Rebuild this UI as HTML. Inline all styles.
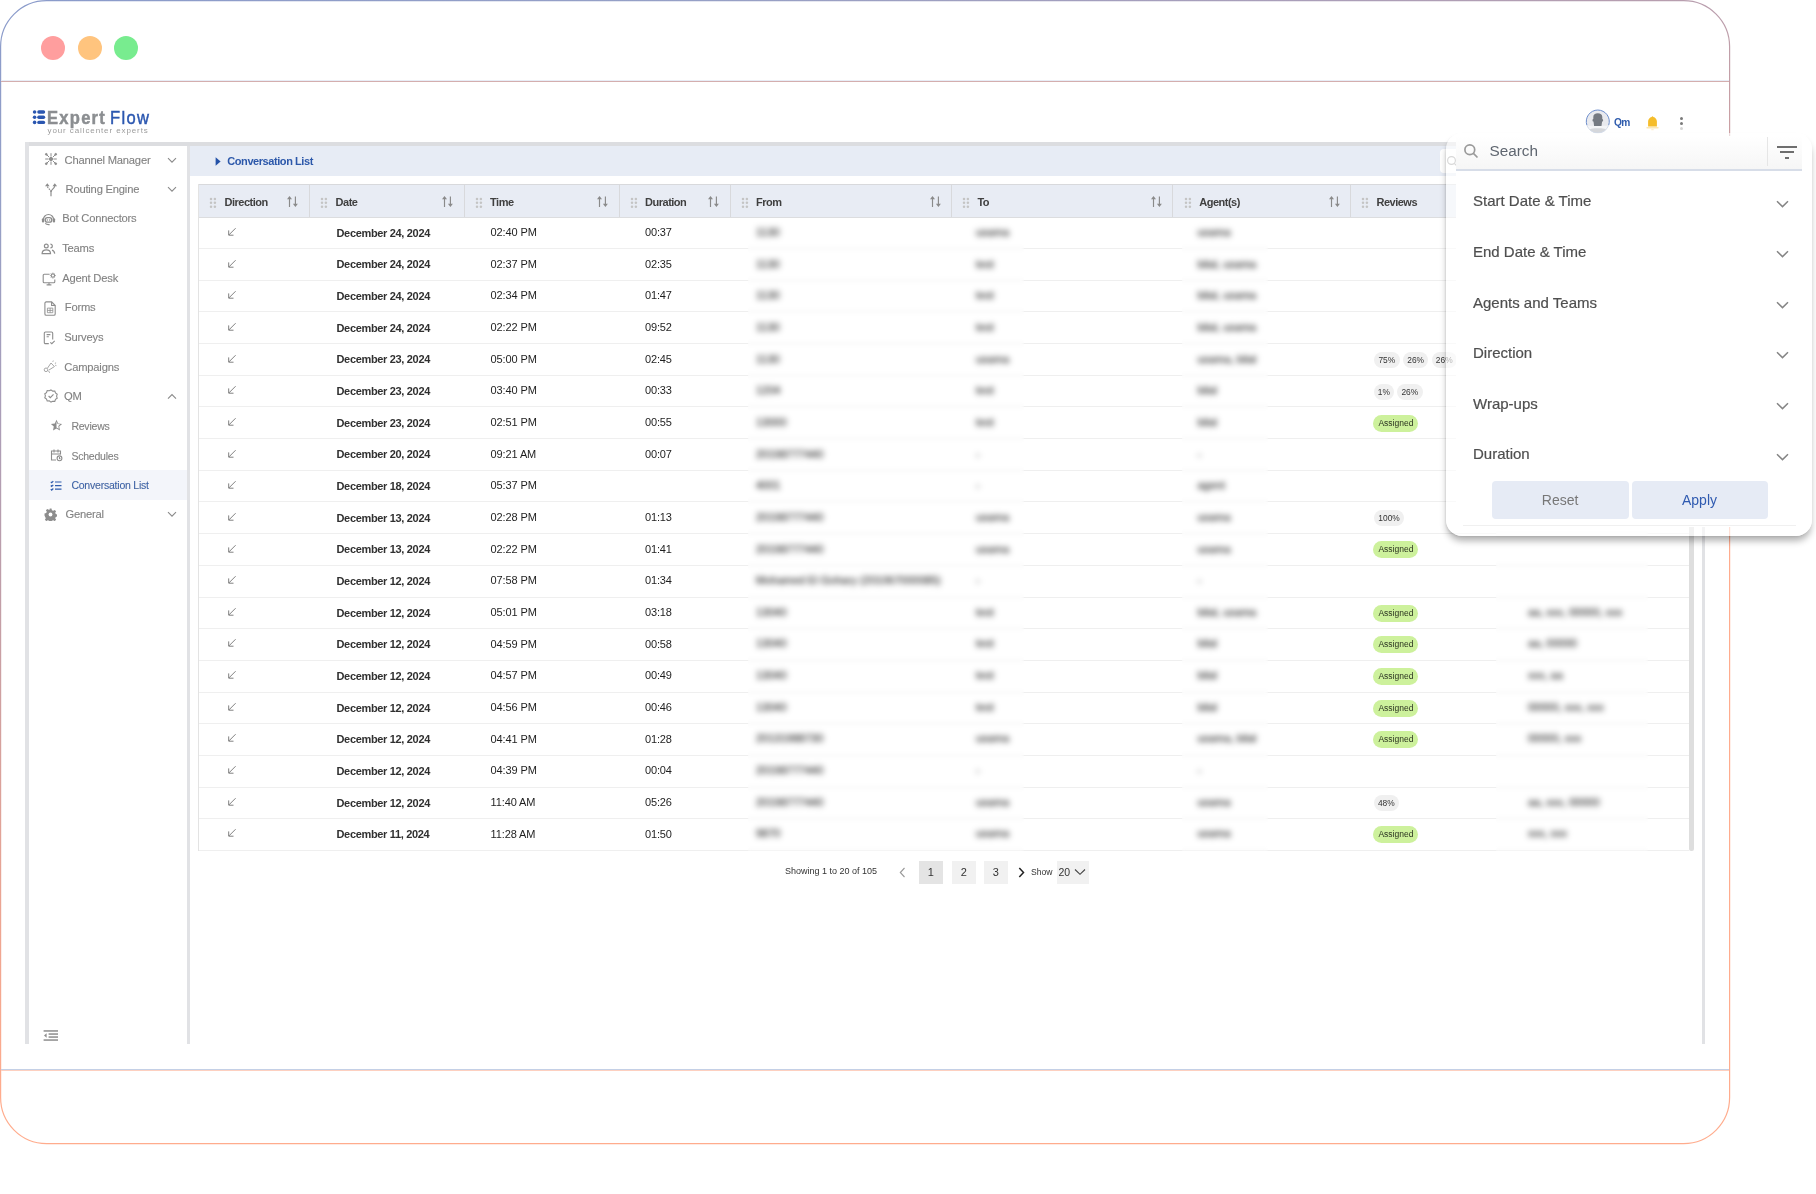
<!DOCTYPE html><html><head><meta charset="utf-8"><style>
*{box-sizing:border-box;margin:0;padding:0}
html,body{width:1816px;height:1194px;overflow:hidden;background:#fff;font-family:"Liberation Sans",sans-serif;position:relative;-webkit-font-smoothing:antialiased}
.a{position:absolute}
.t{position:absolute;white-space:nowrap;line-height:1}
.dot{position:absolute;width:24px;height:24px;border-radius:50%}
.mi{position:absolute;white-space:nowrap;line-height:1;color:#828282;font-size:11.2px;letter-spacing:-0.2px;-webkit-text-stroke:0.12px #828282}
.si{position:absolute;white-space:nowrap;line-height:1;color:#828282;font-size:10.5px;letter-spacing:-0.22px;-webkit-text-stroke:0.12px #828282}
.hd{position:absolute;font-size:11px;font-weight:700;color:#404040;letter-spacing:-0.5px;line-height:1;white-space:nowrap}
.c{position:absolute;font-size:11px;line-height:1;white-space:nowrap;color:#1e1e1e}
.b{font-weight:700;letter-spacing:-0.33px;color:#303030}
.bl{position:absolute;font-size:11px;line-height:1;white-space:nowrap;color:#1a1a1a;filter:blur(2.3px);-webkit-text-stroke:0.15px #1a1a1a;margin-top:-0.8px}
.badge{position:absolute;height:16px;border-radius:8px;background:#f0f0f0;font-size:8.4px;color:#333;line-height:16px;text-align:center}
.asg{position:absolute;height:17px;border-radius:9px;background:#cdf19c;font-size:8.5px;color:#2b3320;line-height:17px;text-align:center;width:45px}
.fi{position:absolute;left:1473px;font-size:15px;color:#4f4f4f;line-height:1;white-space:nowrap;-webkit-text-stroke:0.2px #4f4f4f}
.pg{position:absolute;top:861px;height:23px;width:23.5px;font-size:11px;line-height:23px;text-align:center;color:#333}
</style></head><body><div id="root" style="position:absolute;left:0;top:0;width:1816px;height:1194px;will-change:transform">
<svg class="a" style="left:0;top:0" width="1816" height="1194">
 <defs>
  <linearGradient id="fg" gradientUnits="userSpaceOnUse" x1="0" y1="0" x2="310" y2="1000">
   <stop offset="0" stop-color="#8a9bcb"/>
   <stop offset="0.2" stop-color="#96a0c6"/>
   <stop offset="0.37" stop-color="#aa9eb9"/>
   <stop offset="0.53" stop-color="#bf9ea9"/>
   <stop offset="0.68" stop-color="#d6a19d"/>
   <stop offset="0.84" stop-color="#eda592"/>
   <stop offset="1" stop-color="#ffac8d"/>
  </linearGradient>
 </defs>
 <rect x="0.6" y="0.6" width="1729" height="1143" rx="46" ry="46" fill="none" stroke="url(#fg)" stroke-width="1.2"/>
 <rect x="1" y="80" width="1728" height="1" fill="#e8edf6"/>
 <rect x="1" y="81" width="1728" height="1" fill="#d4aeae"/>
 <rect x="1" y="1069" width="1728" height="1" fill="#c4d0e6"/>
 <rect x="1" y="1070" width="1728" height="1" fill="#fdd0c0"/>
</svg>
<div class="dot" style="left:41px;top:35.5px;background:#ff9e9e"></div>
<div class="dot" style="left:77.6px;top:35.5px;background:#ffc47e"></div>
<div class="dot" style="left:114px;top:35.5px;background:#78ec8f"></div>

<svg class="a" style="left:32px;top:109px" width="14" height="16" viewBox="0 0 14 16">
 <g fill="#2a56b0">
  <circle cx="2.6" cy="3" r="1.8"/><rect x="5.2" y="1.3" width="8" height="3.4" rx="1.7"/>
  <circle cx="2.6" cy="8.3" r="1.8"/><rect x="5.2" y="6.6" width="8" height="3.4" rx="1.7"/>
  <circle cx="2.6" cy="13.4" r="1.8"/><rect x="5.2" y="11.7" width="8" height="3.4" rx="1.7"/>
 </g></svg>
<div class="t" style="left:47.2px;top:109px;font-size:18.4px;font-weight:700;color:#8b8e91;letter-spacing:1.4px;-webkit-text-stroke:0.5px #8b8e91;transform:scaleX(0.9);transform-origin:0 0">Expert</div>
<div class="t" style="left:109.6px;top:109px;font-size:18.4px;color:#2b57b0;letter-spacing:1.45px;-webkit-text-stroke:0.45px #2b57b0;transform:scaleX(0.9);transform-origin:0 0">Flow</div>
<div class="t" style="left:47.5px;top:127.2px;font-size:8px;color:#9c9c9c;letter-spacing:0.9px">your callcenter experts</div>

<svg class="a" style="left:1585px;top:109px" width="26" height="26" viewBox="0 0 26 26">
 <defs><clipPath id="av"><circle cx="12.8" cy="12.7" r="11.4"/></clipPath></defs>
 <circle cx="12.8" cy="12.7" r="11.4" fill="#e9eaee"/>
 <g clip-path="url(#av)">
  <rect x="0" y="16.8" width="26" height="10" fill="#f4f5f7"/>
  <path d="M0 27L3.2 21.6C4.8 20 7.4 19.2 9.6 19.2H16C18.2 19.2 20.8 20 22.4 21.6L25.6 27z" fill="#d5d7db"/>
  <path d="M8.3 8C8.3 5.4 10.1 4.2 12.8 4.2C15.5 4.2 17.3 5.4 17.3 8V10.1C17.9 10.2 18.2 10.7 18.1 11.4C18 12.2 17.6 12.6 17.1 12.6L16.5 16.9H9.1L8.5 12.6C8 12.6 7.6 12.2 7.5 11.4C7.4 10.7 7.7 10.2 8.3 10.1Z" fill="#757a82"/>
 </g>
 <path d="M1.9 16.2A11.5 11.5 0 1 1 23.7 16.2" fill="none" stroke="#5b80c6" stroke-width="0.9"/>
 <path d="M1.9 16.2A11.5 11.5 0 0 0 23.7 16.2" fill="none" stroke="#d3dbea" stroke-width="0.9"/>
</svg>
<div class="t" style="left:1614px;top:117.7px;font-size:10.2px;font-weight:700;color:#2f5cad;letter-spacing:-0.6px">Qm</div>
<svg class="a" style="left:1645px;top:115px" width="15" height="17" viewBox="0 0 15 17">
 <path d="M7.5 1.2c0.4 0 0.7 0.3 0.8 0.7c2.2 0.5 3.6 2.3 3.6 4.6v4.9h-8.8v-4.9c0-2.3 1.4-4.1 3.6-4.6c0.1-0.4 0.4-0.7 0.8-0.7z" fill="#f5bd2b"/>
 <rect x="1.3" y="12" width="12.4" height="1.5" rx="0.7" fill="#fbe7b3"/>
 <rect x="6.3" y="14.3" width="2.4" height="0.9" fill="#fce9bc"/>
</svg>
<div class="a" style="left:1680.2px;top:117.2px;width:3px;height:3px;border-radius:50%;background:#7a7a7a"></div>
<div class="a" style="left:1680.2px;top:122px;width:3px;height:3px;border-radius:50%;background:#7a7a7a"></div>
<div class="a" style="left:1680.2px;top:126.9px;width:3px;height:3px;border-radius:50%;background:#d6d6d6"></div>

<div class="a" style="left:25px;top:142px;width:1680px;height:4px;background:#dcdde0"></div>
<div class="a" style="left:25px;top:142px;width:4px;height:902px;background:#e1e2e5"></div>
<div class="a" style="left:187px;top:146px;width:3px;height:898px;background:#e1e2e5"></div>
<div class="a" style="left:1702px;top:146px;width:3px;height:898px;background:#e1e2e5"></div>
<div class="a" style="left:190px;top:146px;width:1512px;height:30px;background:#e7ecf5"></div>
<div class="a" style="left:1439.5px;top:149px;width:200px;height:24px;background:#fff;border-radius:4px"></div>
<svg class="a" style="left:1446px;top:155px" width="12" height="12" viewBox="0 0 12 12" fill="none" stroke="#999" stroke-width="1.2"><circle cx="5.5" cy="5.5" r="3.9"/><path d="M8.3 8.3L11 11"/></svg>
<svg class="a" style="left:215px;top:157px" width="6" height="9" viewBox="0 0 6 9"><path d="M0.6 0.3L5.6 4.5L0.6 8.7z" fill="#2452a8"/></svg>
<div class="t" style="left:227.3px;top:155.6px;font-size:11px;font-weight:700;color:#2c58aa;letter-spacing:-0.43px">Conversation List</div>

<div class="a" style="left:29px;top:470.4px;width:158px;height:30px;background:#f3f5fa"></div>
<div class="mi" style="left:64.5px;top:154.62px;">Channel Manager</div>
<div class="mi" style="left:65.5px;top:184.02px;">Routing Engine</div>
<div class="mi" style="left:62.2px;top:213.42px;">Bot Connectors</div>
<div class="mi" style="left:62.2px;top:242.82px;">Teams</div>
<div class="mi" style="left:62.2px;top:272.52px;">Agent Desk</div>
<div class="mi" style="left:64.8px;top:301.62px;">Forms</div>
<div class="mi" style="left:64.3px;top:332.02px;">Surveys</div>
<div class="mi" style="left:64.3px;top:361.52px;">Campaigns</div>
<div class="mi" style="left:64.0px;top:390.52px;">QM</div>
<div class="si" style="left:71.4px;top:421.11px;">Reviews</div>
<div class="si" style="left:71.4px;top:451.01px;">Schedules</div>
<div class="si" style="left:71.4px;top:480.41px;color:#2f5cad;">Conversation List</div>
<div class="mi" style="left:65.4px;top:509.32px;">General</div>
<svg class="a" style="left:166.5px;top:156.5px" width="10" height="7" viewBox="0 0 10 7"><path d="M1 1.2L5 5.2L9 1.2" fill="none" stroke="#8a8a8a" stroke-width="1.1"/></svg>
<svg class="a" style="left:166.5px;top:185.9px" width="10" height="7" viewBox="0 0 10 7"><path d="M1 1.2L5 5.2L9 1.2" fill="none" stroke="#8a8a8a" stroke-width="1.1"/></svg>
<svg class="a" style="left:166.5px;top:392.5px" width="10" height="7" viewBox="0 0 10 7"><path d="M1 5.6L5 1.6L9 5.6" fill="none" stroke="#8a8a8a" stroke-width="1.1"/></svg>
<svg class="a" style="left:166.5px;top:511.3px" width="10" height="7" viewBox="0 0 10 7"><path d="M1 1.2L5 5.2L9 1.2" fill="none" stroke="#8a8a8a" stroke-width="1.1"/></svg>

<svg class="a" style="left:44px;top:152px" width="14" height="14" viewBox="0 0 14 14" fill="none" stroke="#8d8d8d" stroke-width="1">
 <circle cx="7" cy="7" r="1.6" fill="#8d8d8d"/>
 <path d="M7 1.2v3.4M7 9.4v3.4M1.2 7h3.4M9.4 7h3.4M2.6 2.6l2.6 2.6M8.8 8.8l2.6 2.6M11.4 2.6L8.8 5.2M5.2 8.8l-2.6 2.6"/>
 <circle cx="2.3" cy="2.3" r="0.9" fill="#8d8d8d"/><circle cx="11.7" cy="2.3" r="0.9" fill="#8d8d8d"/><circle cx="2.3" cy="11.7" r="0.9" fill="#8d8d8d"/><circle cx="11.7" cy="11.7" r="0.9" fill="#8d8d8d"/>
</svg>
<svg class="a" style="left:44px;top:182px" width="14" height="15" viewBox="0 0 14 15" fill="none" stroke="#8d8d8d" stroke-width="1.2">
 <path d="M7 14.3V9.6"/><path d="M7 9.9C7 7.6 3.8 6.8 3.3 4" stroke-dasharray="1.6 0.9"/><path d="M7 9.9C7 7.6 10.3 6.8 10.8 4"/>
 <path d="M1 4.3L3.3 1.3L5.6 4.3z M8.5 4.3L10.8 1.3L13.1 4.3z" fill="#8d8d8d" stroke="none"/>
</svg>
<svg class="a" style="left:41px;top:213px" width="15" height="13" viewBox="0 0 15 13" fill="none" stroke="#8d8d8d" stroke-width="1.1">
 <path d="M2.4 6.6A5.1 5.1 0 0 1 12.6 6.6"/>
 <rect x="0.9" y="5.2" width="2.3" height="4.4" rx="1.1" fill="#8d8d8d" stroke="none"/><rect x="11.8" y="5.2" width="2.3" height="4.4" rx="1.1" fill="#8d8d8d" stroke="none"/>
 <rect x="4.2" y="4.7" width="6.6" height="4.4" rx="2.2" stroke-width="1.3"/>
 <circle cx="6.3" cy="6.9" r="0.75" fill="#8d8d8d" stroke="none"/><circle cx="8.7" cy="6.9" r="0.75" fill="#8d8d8d" stroke="none"/>
 <path d="M4.3 10.4Q5.6 11.9 8.6 11.6"/>
</svg>
<svg class="a" style="left:41px;top:243px" width="15" height="12" viewBox="0 0 15 12" fill="none" stroke="#8d8d8d" stroke-width="1.2">
 <circle cx="5.3" cy="3" r="1.9"/><path d="M9.4 1.1a1.9 1.9 0 1 1 0 3.8"/>
 <path d="M1.1 10.6c0-2.4 1.9-3.7 4.2-3.7s4.2 1.3 4.2 3.7z"/><path d="M11 7.1c1.5 0.4 2.5 1.6 2.7 3.5"/>
</svg>
<svg class="a" style="left:42px;top:272px" width="15" height="14" viewBox="0 0 15 14" fill="none" stroke="#8d8d8d" stroke-width="1.1">
 <path d="M7.6 2.3H2.2a1 1 0 0 0-1 1v6.4a1 1 0 0 0 1 1h9.6a1 1 0 0 0 1-1V7.6"/><path d="M7 10.8v1.8M4.6 12.9h4.8"/>
 <circle cx="10.9" cy="3.6" r="1.7"/><path d="M10.9 0.6v1M10.9 5.6v1M7.9 3.6h1M12.9 3.6h1M8.8 1.5l0.6 0.6M12.4 5.1l0.6 0.6M13 1.5l-0.6 0.6M9.4 5.1l-0.6 0.6" stroke-width="0.8"/>
</svg>
<svg class="a" style="left:44px;top:301px" width="12" height="15" viewBox="0 0 12 15" fill="none" stroke="#8d8d8d" stroke-width="1.1">
 <path d="M2.2 0.9h5.4l3.6 3.6v8.4a1.3 1.3 0 0 1-1.3 1.3H2.2a1.3 1.3 0 0 1-1.3-1.3V2.2a1.3 1.3 0 0 1 1.3-1.3z"/><path d="M7.6 0.9v3.6h3.6"/>
 <path d="M3.4 7.1h5.4v4.6H3.4z M3.4 9.4h5.4 M6.1 7.1v4.6" stroke-width="0.8"/>
</svg>
<svg class="a" style="left:43px;top:331px" width="13" height="15" viewBox="0 0 13 15" fill="none" stroke="#8d8d8d" stroke-width="1.1">
 <path d="M5.8 12.6H2.5a1.2 1.2 0 0 1-1.2-1.2V2.2A1.2 1.2 0 0 1 2.5 1h6a1.2 1.2 0 0 1 1.2 1.2v6.3"/><path d="M3.6 3.6h3.8M3.6 5.8h2.2"/><path d="M7.3 11.3l1.5 1.4l2.9-2.9"/>
</svg>
<svg class="a" style="left:43px;top:360px" width="14" height="14" viewBox="0 0 14 14" fill="none" stroke="#a5a5a5" stroke-width="1">
 <circle cx="3" cy="9.8" r="1.8"/><path d="M4.4 8.3L8 3L11.4 6.6L5.7 10.2"/><path d="M5.6 10.9L6.6 12.8"/>
 <path d="M9.8 1.8L10.3 0.6M11.9 3.3L13.1 2.9M12.2 5.2L13.4 5.6"/>
</svg>
<svg class="a" style="left:44px;top:389px" width="14" height="14" viewBox="0 0 14 14" fill="none" stroke="#8d8d8d" stroke-width="1.1">
 <path d="M7 0.9l1.7 1.2l2.1-0.1l0.7 2l1.7 1.2l-0.6 2l0.6 2l-1.7 1.2l-0.7 2l-2.1-0.1L7 13.1l-1.7-1.2l-2.1 0.1l-0.7-2L0.8 8.8l0.6-2l-0.6-2l1.7-1.2l0.7-2l2.1 0.1z"/>
 <path d="M4.6 7l1.7 1.7l3.2-3.3"/>
</svg>
<svg class="a" style="left:50px;top:419px" width="13" height="13" viewBox="0 0 13 13">
 <path d="M6.5 0.8l1.7 3.6l3.9 0.5l-2.9 2.7l0.8 3.9l-3.5-2l-3.5 2l0.8-3.9L0.9 4.9l3.9-0.5z" fill="#8d8d8d"/>
 <path d="M6.5 2.6l1.1 2.4l2.6 0.3l-1.9 1.8l0.5 2.6l-2.3-1.3z" fill="#fff"/>
</svg>
<svg class="a" style="left:50px;top:448px" width="13" height="14" viewBox="0 0 13 14" fill="none" stroke="#8d8d8d" stroke-width="1.1">
 <path d="M6 12H1.5V3h9v3.5"/><path d="M1.5 6h9M4 1.5v3M8 1.5v3"/>
 <circle cx="9.5" cy="10.3" r="2.4"/><path d="M9.5 9v1.4l0.9 0.6"/>
</svg>
<svg class="a" style="left:50px;top:480px" width="12" height="11" viewBox="0 0 12 11" fill="none" stroke="#2f5cad" stroke-width="1.2">
 <path d="M0.8 1.8l0.9 0.9l1.6-1.6M0.8 5.5l0.9 0.9l1.6-1.6M0.8 9.2l0.9 0.9l1.6-1.6"/>
 <path d="M5 2h6.5M5 5.6h6.5M5 9.2h6.5"/>
</svg>
<svg class="a" style="left:44px;top:508px" width="13" height="13" viewBox="0 0 13 13">
 <path d="M5.5 0.5h2l0.4 1.7l1.3 0.6l1.5-0.9l1.4 1.4l-0.9 1.5l0.6 1.3l1.7 0.4v2l-1.7 0.4l-0.6 1.3l0.9 1.5l-1.4 1.4l-1.5-0.9l-1.3 0.6l-0.4 1.7h-2l-0.4-1.7l-1.3-0.6l-1.5 0.9l-1.4-1.4l0.9-1.5l-0.6-1.3L0.5 7.5v-2l1.7-0.4l0.6-1.3l-0.9-1.5l1.4-1.4l1.5 0.9l1.3-0.6z" fill="#8d8d8d"/>
 <circle cx="6.5" cy="6.5" r="1.9" fill="#fff"/>
</svg>
<svg class="a" style="left:43px;top:1029px" width="16" height="13" viewBox="0 0 16 13">
 <g fill="#8e8e8e"><rect x="0.6" y="1.2" width="14.4" height="1.5"/><rect x="5.6" y="4.3" width="9.4" height="1.5"/><rect x="5.6" y="7.3" width="9.4" height="1.5"/><rect x="0.6" y="10.3" width="14.4" height="1.5"/>
 <path d="M1 6.5l2.6-2.2v4.4z"/></g>
</svg>

<div class="a" style="left:198px;top:184px;width:1491px;height:34px;background:#e8ecf4;border-top:1px solid #d8d9dc;border-bottom:1px solid #dcdddf"></div>
<div class="a" style="left:198px;top:184px;width:1px;height:667px;background:#e3e3e3"></div>
<div class="a" style="left:309.0px;top:185px;width:1px;height:32px;background:#d8d9dc"></div>
<div class="a" style="left:463.5px;top:185px;width:1px;height:32px;background:#d8d9dc"></div>
<div class="a" style="left:619.0px;top:185px;width:1px;height:32px;background:#d8d9dc"></div>
<div class="a" style="left:729.5px;top:185px;width:1px;height:32px;background:#d8d9dc"></div>
<div class="a" style="left:951.0px;top:185px;width:1px;height:32px;background:#d8d9dc"></div>
<div class="a" style="left:1172.0px;top:185px;width:1px;height:32px;background:#d8d9dc"></div>
<div class="a" style="left:1349.5px;top:185px;width:1px;height:32px;background:#d8d9dc"></div>
<div class="a" style="left:1499.5px;top:185px;width:1px;height:32px;background:#d8d9dc"></div>
<svg class="a" style="left:209.45px;top:196.8px" width="9" height="12" viewBox="0 0 9 12" fill="#c4c4c4"><circle cx="2" cy="2" r="1.25"/><circle cx="5.9" cy="2" r="1.25"/><circle cx="2" cy="5.85" r="1.25"/><circle cx="5.9" cy="5.85" r="1.25"/><circle cx="2" cy="9.7" r="1.25"/><circle cx="5.9" cy="9.7" r="1.25"/></svg>
<div class="hd" style="left:224.6px;top:197.4px">Direction</div>
<svg class="a" style="left:287.2px;top:196px" width="12" height="12" viewBox="0 0 12 12"><path d="M2.5 2.5V11M8.4 0.5V8.6" stroke="#8a8a8a" stroke-width="1.15"/><path d="M0 3.3L2.5 0L5 3.3zM5.9 7.8L8.4 11.1L10.9 7.8z" fill="#8a8a8a"/></svg>
<svg class="a" style="left:320.45px;top:196.8px" width="9" height="12" viewBox="0 0 9 12" fill="#c4c4c4"><circle cx="2" cy="2" r="1.25"/><circle cx="5.9" cy="2" r="1.25"/><circle cx="2" cy="5.85" r="1.25"/><circle cx="5.9" cy="5.85" r="1.25"/><circle cx="2" cy="9.7" r="1.25"/><circle cx="5.9" cy="9.7" r="1.25"/></svg>
<div class="hd" style="left:335.6px;top:197.4px">Date</div>
<svg class="a" style="left:441.5px;top:196px" width="12" height="12" viewBox="0 0 12 12"><path d="M2.5 2.5V11M8.4 0.5V8.6" stroke="#8a8a8a" stroke-width="1.15"/><path d="M0 3.3L2.5 0L5 3.3zM5.9 7.8L8.4 11.1L10.9 7.8z" fill="#8a8a8a"/></svg>
<svg class="a" style="left:474.95px;top:196.8px" width="9" height="12" viewBox="0 0 9 12" fill="#c4c4c4"><circle cx="2" cy="2" r="1.25"/><circle cx="5.9" cy="2" r="1.25"/><circle cx="2" cy="5.85" r="1.25"/><circle cx="5.9" cy="5.85" r="1.25"/><circle cx="2" cy="9.7" r="1.25"/><circle cx="5.9" cy="9.7" r="1.25"/></svg>
<div class="hd" style="left:490.1px;top:197.4px">Time</div>
<svg class="a" style="left:597px;top:196px" width="12" height="12" viewBox="0 0 12 12"><path d="M2.5 2.5V11M8.4 0.5V8.6" stroke="#8a8a8a" stroke-width="1.15"/><path d="M0 3.3L2.5 0L5 3.3zM5.9 7.8L8.4 11.1L10.9 7.8z" fill="#8a8a8a"/></svg>
<svg class="a" style="left:629.95px;top:196.8px" width="9" height="12" viewBox="0 0 9 12" fill="#c4c4c4"><circle cx="2" cy="2" r="1.25"/><circle cx="5.9" cy="2" r="1.25"/><circle cx="2" cy="5.85" r="1.25"/><circle cx="5.9" cy="5.85" r="1.25"/><circle cx="2" cy="9.7" r="1.25"/><circle cx="5.9" cy="9.7" r="1.25"/></svg>
<div class="hd" style="left:645.1px;top:197.4px">Duration</div>
<svg class="a" style="left:708px;top:196px" width="12" height="12" viewBox="0 0 12 12"><path d="M2.5 2.5V11M8.4 0.5V8.6" stroke="#8a8a8a" stroke-width="1.15"/><path d="M0 3.3L2.5 0L5 3.3zM5.9 7.8L8.4 11.1L10.9 7.8z" fill="#8a8a8a"/></svg>
<svg class="a" style="left:740.85px;top:196.8px" width="9" height="12" viewBox="0 0 9 12" fill="#c4c4c4"><circle cx="2" cy="2" r="1.25"/><circle cx="5.9" cy="2" r="1.25"/><circle cx="2" cy="5.85" r="1.25"/><circle cx="5.9" cy="5.85" r="1.25"/><circle cx="2" cy="9.7" r="1.25"/><circle cx="5.9" cy="9.7" r="1.25"/></svg>
<div class="hd" style="left:756.0px;top:197.4px">From</div>
<svg class="a" style="left:929.5px;top:196px" width="12" height="12" viewBox="0 0 12 12"><path d="M2.5 2.5V11M8.4 0.5V8.6" stroke="#8a8a8a" stroke-width="1.15"/><path d="M0 3.3L2.5 0L5 3.3zM5.9 7.8L8.4 11.1L10.9 7.8z" fill="#8a8a8a"/></svg>
<svg class="a" style="left:962.25px;top:196.8px" width="9" height="12" viewBox="0 0 9 12" fill="#c4c4c4"><circle cx="2" cy="2" r="1.25"/><circle cx="5.9" cy="2" r="1.25"/><circle cx="2" cy="5.85" r="1.25"/><circle cx="5.9" cy="5.85" r="1.25"/><circle cx="2" cy="9.7" r="1.25"/><circle cx="5.9" cy="9.7" r="1.25"/></svg>
<div class="hd" style="left:977.4px;top:197.4px">To</div>
<svg class="a" style="left:1150.8px;top:196px" width="12" height="12" viewBox="0 0 12 12"><path d="M2.5 2.5V11M8.4 0.5V8.6" stroke="#8a8a8a" stroke-width="1.15"/><path d="M0 3.3L2.5 0L5 3.3zM5.9 7.8L8.4 11.1L10.9 7.8z" fill="#8a8a8a"/></svg>
<svg class="a" style="left:1184.15px;top:196.8px" width="9" height="12" viewBox="0 0 9 12" fill="#c4c4c4"><circle cx="2" cy="2" r="1.25"/><circle cx="5.9" cy="2" r="1.25"/><circle cx="2" cy="5.85" r="1.25"/><circle cx="5.9" cy="5.85" r="1.25"/><circle cx="2" cy="9.7" r="1.25"/><circle cx="5.9" cy="9.7" r="1.25"/></svg>
<div class="hd" style="left:1199.3px;top:197.4px">Agent(s)</div>
<svg class="a" style="left:1328.5px;top:196px" width="12" height="12" viewBox="0 0 12 12"><path d="M2.5 2.5V11M8.4 0.5V8.6" stroke="#8a8a8a" stroke-width="1.15"/><path d="M0 3.3L2.5 0L5 3.3zM5.9 7.8L8.4 11.1L10.9 7.8z" fill="#8a8a8a"/></svg>
<svg class="a" style="left:1361.35px;top:196.8px" width="9" height="12" viewBox="0 0 9 12" fill="#c4c4c4"><circle cx="2" cy="2" r="1.25"/><circle cx="5.9" cy="2" r="1.25"/><circle cx="2" cy="5.85" r="1.25"/><circle cx="5.9" cy="5.85" r="1.25"/><circle cx="2" cy="9.7" r="1.25"/><circle cx="5.9" cy="9.7" r="1.25"/></svg>
<div class="hd" style="left:1376.5px;top:197.4px">Reviews</div>
<div class="a" style="left:199px;top:248.00px;width:1490px;height:1px;background:#efefef"></div>
<svg class="a" style="left:227.4px;top:226.90px" width="10" height="10" viewBox="0 0 10 10" fill="none" stroke="#808080" stroke-width="1"><path d="M8.6 1.2L1.8 8M1.7 3.4v4.8h4.8"/></svg>
<div class="c b" style="left:336.5px;top:227.71px">December 24, 2024</div>
<div class="c" style="left:490.5px;top:227.11px;letter-spacing:-0.1px">02:40 PM</div>
<div class="c" style="left:645px;top:227.11px;letter-spacing:-0.15px">00:37</div>
<div class="bl" style="left:756px;top:227.71px">1130</div>
<div class="bl" style="left:976px;top:227.71px">usama</div>
<div class="bl" style="left:1197.5px;top:227.71px">usama</div>
<div class="a" style="left:199px;top:279.68px;width:1490px;height:1px;background:#efefef"></div>
<svg class="a" style="left:227.4px;top:258.56px" width="10" height="10" viewBox="0 0 10 10" fill="none" stroke="#808080" stroke-width="1"><path d="M8.6 1.2L1.8 8M1.7 3.4v4.8h4.8"/></svg>
<div class="c b" style="left:336.5px;top:259.37px">December 24, 2024</div>
<div class="c" style="left:490.5px;top:258.77px;letter-spacing:-0.1px">02:37 PM</div>
<div class="c" style="left:645px;top:258.77px;letter-spacing:-0.15px">02:35</div>
<div class="bl" style="left:756px;top:259.37px">1130</div>
<div class="bl" style="left:976px;top:259.37px">test</div>
<div class="bl" style="left:1197.5px;top:259.37px">bilal, usama</div>
<div class="a" style="left:199px;top:311.37px;width:1490px;height:1px;background:#efefef"></div>
<svg class="a" style="left:227.4px;top:290.22px" width="10" height="10" viewBox="0 0 10 10" fill="none" stroke="#808080" stroke-width="1"><path d="M8.6 1.2L1.8 8M1.7 3.4v4.8h4.8"/></svg>
<div class="c b" style="left:336.5px;top:291.03px">December 24, 2024</div>
<div class="c" style="left:490.5px;top:290.43px;letter-spacing:-0.1px">02:34 PM</div>
<div class="c" style="left:645px;top:290.43px;letter-spacing:-0.15px">01:47</div>
<div class="bl" style="left:756px;top:291.03px">1130</div>
<div class="bl" style="left:976px;top:291.03px">test</div>
<div class="bl" style="left:1197.5px;top:291.03px">bilal, usama</div>
<div class="a" style="left:199px;top:343.05px;width:1490px;height:1px;background:#efefef"></div>
<svg class="a" style="left:227.4px;top:321.88px" width="10" height="10" viewBox="0 0 10 10" fill="none" stroke="#808080" stroke-width="1"><path d="M8.6 1.2L1.8 8M1.7 3.4v4.8h4.8"/></svg>
<div class="c b" style="left:336.5px;top:322.69px">December 24, 2024</div>
<div class="c" style="left:490.5px;top:322.09px;letter-spacing:-0.1px">02:22 PM</div>
<div class="c" style="left:645px;top:322.09px;letter-spacing:-0.15px">09:52</div>
<div class="bl" style="left:756px;top:322.69px">1130</div>
<div class="bl" style="left:976px;top:322.69px">test</div>
<div class="bl" style="left:1197.5px;top:322.69px">bilal, usama</div>
<div class="a" style="left:199px;top:374.74px;width:1490px;height:1px;background:#efefef"></div>
<svg class="a" style="left:227.4px;top:353.54px" width="10" height="10" viewBox="0 0 10 10" fill="none" stroke="#808080" stroke-width="1"><path d="M8.6 1.2L1.8 8M1.7 3.4v4.8h4.8"/></svg>
<div class="c b" style="left:336.5px;top:354.35px">December 23, 2024</div>
<div class="c" style="left:490.5px;top:353.75px;letter-spacing:-0.1px">05:00 PM</div>
<div class="c" style="left:645px;top:353.75px;letter-spacing:-0.15px">02:45</div>
<div class="bl" style="left:756px;top:354.35px">1130</div>
<div class="bl" style="left:976px;top:354.35px">usama</div>
<div class="bl" style="left:1197.5px;top:354.35px">usama, bilal</div>
<div class="badge" style="left:1373.8px;top:351.97px;width:26px">75%</div>
<div class="badge" style="left:1402.9px;top:351.97px;width:25.5px">26%</div>
<div class="badge" style="left:1431.5px;top:351.97px;width:25.5px">26%</div>
<div class="a" style="left:199px;top:406.42px;width:1490px;height:1px;background:#efefef"></div>
<svg class="a" style="left:227.4px;top:385.20px" width="10" height="10" viewBox="0 0 10 10" fill="none" stroke="#808080" stroke-width="1"><path d="M8.6 1.2L1.8 8M1.7 3.4v4.8h4.8"/></svg>
<div class="c b" style="left:336.5px;top:386.01px">December 23, 2024</div>
<div class="c" style="left:490.5px;top:385.41px;letter-spacing:-0.1px">03:40 PM</div>
<div class="c" style="left:645px;top:385.41px;letter-spacing:-0.15px">00:33</div>
<div class="bl" style="left:756px;top:386.01px">1204</div>
<div class="bl" style="left:976px;top:386.01px">test</div>
<div class="bl" style="left:1197.5px;top:386.01px">bilal</div>
<div class="badge" style="left:1373.8px;top:383.63px;width:20.2px">1%</div>
<div class="badge" style="left:1397.1px;top:383.63px;width:25.5px">26%</div>
<div class="a" style="left:199px;top:438.10px;width:1490px;height:1px;background:#efefef"></div>
<svg class="a" style="left:227.4px;top:416.86px" width="10" height="10" viewBox="0 0 10 10" fill="none" stroke="#808080" stroke-width="1"><path d="M8.6 1.2L1.8 8M1.7 3.4v4.8h4.8"/></svg>
<div class="c b" style="left:336.5px;top:417.67px">December 23, 2024</div>
<div class="c" style="left:490.5px;top:417.07px;letter-spacing:-0.1px">02:51 PM</div>
<div class="c" style="left:645px;top:417.07px;letter-spacing:-0.15px">00:55</div>
<div class="bl" style="left:756px;top:417.67px">13000</div>
<div class="bl" style="left:976px;top:417.67px">test</div>
<div class="bl" style="left:1197.5px;top:417.67px">bilal</div>
<div class="asg" style="left:1373.4px;top:414.79px">Assigned</div>
<div class="a" style="left:199px;top:469.79px;width:1490px;height:1px;background:#efefef"></div>
<svg class="a" style="left:227.4px;top:448.52px" width="10" height="10" viewBox="0 0 10 10" fill="none" stroke="#808080" stroke-width="1"><path d="M8.6 1.2L1.8 8M1.7 3.4v4.8h4.8"/></svg>
<div class="c b" style="left:336.5px;top:449.33px">December 20, 2024</div>
<div class="c" style="left:490.5px;top:448.73px;letter-spacing:-0.1px">09:21 AM</div>
<div class="c" style="left:645px;top:448.73px;letter-spacing:-0.15px">00:07</div>
<div class="bl" style="left:756px;top:449.33px">20198777440</div>
<div class="bl" style="left:976px;top:449.33px">-</div>
<div class="bl" style="left:1197.5px;top:449.33px">-</div>
<div class="a" style="left:199px;top:501.47px;width:1490px;height:1px;background:#efefef"></div>
<svg class="a" style="left:227.4px;top:480.18px" width="10" height="10" viewBox="0 0 10 10" fill="none" stroke="#808080" stroke-width="1"><path d="M8.6 1.2L1.8 8M1.7 3.4v4.8h4.8"/></svg>
<div class="c b" style="left:336.5px;top:480.99px">December 18, 2024</div>
<div class="c" style="left:490.5px;top:480.39px;letter-spacing:-0.1px">05:37 PM</div>
<div class="bl" style="left:756px;top:480.99px">4001</div>
<div class="bl" style="left:976px;top:480.99px">-</div>
<div class="bl" style="left:1197.5px;top:480.99px">agent</div>
<div class="a" style="left:199px;top:533.16px;width:1490px;height:1px;background:#efefef"></div>
<svg class="a" style="left:227.4px;top:511.84px" width="10" height="10" viewBox="0 0 10 10" fill="none" stroke="#808080" stroke-width="1"><path d="M8.6 1.2L1.8 8M1.7 3.4v4.8h4.8"/></svg>
<div class="c b" style="left:336.5px;top:512.65px">December 13, 2024</div>
<div class="c" style="left:490.5px;top:512.05px;letter-spacing:-0.1px">02:28 PM</div>
<div class="c" style="left:645px;top:512.05px;letter-spacing:-0.15px">01:13</div>
<div class="bl" style="left:756px;top:512.65px">20198777440</div>
<div class="bl" style="left:976px;top:512.65px">usama</div>
<div class="bl" style="left:1197.5px;top:512.65px">usama</div>
<div class="badge" style="left:1373.8px;top:510.27px;width:30.5px">100%</div>
<div class="a" style="left:199px;top:564.84px;width:1490px;height:1px;background:#efefef"></div>
<svg class="a" style="left:227.4px;top:543.50px" width="10" height="10" viewBox="0 0 10 10" fill="none" stroke="#808080" stroke-width="1"><path d="M8.6 1.2L1.8 8M1.7 3.4v4.8h4.8"/></svg>
<div class="c b" style="left:336.5px;top:544.31px">December 13, 2024</div>
<div class="c" style="left:490.5px;top:543.71px;letter-spacing:-0.1px">02:22 PM</div>
<div class="c" style="left:645px;top:543.71px;letter-spacing:-0.15px">01:41</div>
<div class="bl" style="left:756px;top:544.31px">20198777440</div>
<div class="bl" style="left:976px;top:544.31px">usama</div>
<div class="bl" style="left:1197.5px;top:544.31px">usama</div>
<div class="asg" style="left:1373.4px;top:541.43px">Assigned</div>
<div class="a" style="left:199px;top:596.52px;width:1490px;height:1px;background:#efefef"></div>
<svg class="a" style="left:227.4px;top:575.16px" width="10" height="10" viewBox="0 0 10 10" fill="none" stroke="#808080" stroke-width="1"><path d="M8.6 1.2L1.8 8M1.7 3.4v4.8h4.8"/></svg>
<div class="c b" style="left:336.5px;top:575.97px">December 12, 2024</div>
<div class="c" style="left:490.5px;top:575.37px;letter-spacing:-0.1px">07:58 PM</div>
<div class="c" style="left:645px;top:575.37px;letter-spacing:-0.15px">01:34</div>
<div class="bl" style="left:756px;top:575.97px">Mohamed El Gohary (201067000085)</div>
<div class="bl" style="left:976px;top:575.97px">-</div>
<div class="bl" style="left:1197.5px;top:575.97px">-</div>
<div class="a" style="left:199px;top:628.21px;width:1490px;height:1px;background:#efefef"></div>
<svg class="a" style="left:227.4px;top:606.82px" width="10" height="10" viewBox="0 0 10 10" fill="none" stroke="#808080" stroke-width="1"><path d="M8.6 1.2L1.8 8M1.7 3.4v4.8h4.8"/></svg>
<div class="c b" style="left:336.5px;top:607.63px">December 12, 2024</div>
<div class="c" style="left:490.5px;top:607.03px;letter-spacing:-0.1px">05:01 PM</div>
<div class="c" style="left:645px;top:607.03px;letter-spacing:-0.15px">03:18</div>
<div class="bl" style="left:756px;top:607.63px">13040</div>
<div class="bl" style="left:976px;top:607.63px">test</div>
<div class="bl" style="left:1197.5px;top:607.63px">bilal, usama</div>
<div class="asg" style="left:1373.4px;top:604.75px">Assigned</div>
<div class="bl" style="left:1528px;top:607.63px">aa, xxx, 00000, xxx</div>
<div class="a" style="left:199px;top:659.89px;width:1490px;height:1px;background:#efefef"></div>
<svg class="a" style="left:227.4px;top:638.48px" width="10" height="10" viewBox="0 0 10 10" fill="none" stroke="#808080" stroke-width="1"><path d="M8.6 1.2L1.8 8M1.7 3.4v4.8h4.8"/></svg>
<div class="c b" style="left:336.5px;top:639.29px">December 12, 2024</div>
<div class="c" style="left:490.5px;top:638.69px;letter-spacing:-0.1px">04:59 PM</div>
<div class="c" style="left:645px;top:638.69px;letter-spacing:-0.15px">00:58</div>
<div class="bl" style="left:756px;top:639.29px">13040</div>
<div class="bl" style="left:976px;top:639.29px">test</div>
<div class="bl" style="left:1197.5px;top:639.29px">bilal</div>
<div class="asg" style="left:1373.4px;top:636.41px">Assigned</div>
<div class="bl" style="left:1528px;top:639.29px">aa, 00000</div>
<div class="a" style="left:199px;top:691.58px;width:1490px;height:1px;background:#efefef"></div>
<svg class="a" style="left:227.4px;top:670.14px" width="10" height="10" viewBox="0 0 10 10" fill="none" stroke="#808080" stroke-width="1"><path d="M8.6 1.2L1.8 8M1.7 3.4v4.8h4.8"/></svg>
<div class="c b" style="left:336.5px;top:670.95px">December 12, 2024</div>
<div class="c" style="left:490.5px;top:670.35px;letter-spacing:-0.1px">04:57 PM</div>
<div class="c" style="left:645px;top:670.35px;letter-spacing:-0.15px">00:49</div>
<div class="bl" style="left:756px;top:670.95px">13040</div>
<div class="bl" style="left:976px;top:670.95px">test</div>
<div class="bl" style="left:1197.5px;top:670.95px">bilal</div>
<div class="asg" style="left:1373.4px;top:668.07px">Assigned</div>
<div class="bl" style="left:1528px;top:670.95px">xxx, aa</div>
<div class="a" style="left:199px;top:723.26px;width:1490px;height:1px;background:#efefef"></div>
<svg class="a" style="left:227.4px;top:701.80px" width="10" height="10" viewBox="0 0 10 10" fill="none" stroke="#808080" stroke-width="1"><path d="M8.6 1.2L1.8 8M1.7 3.4v4.8h4.8"/></svg>
<div class="c b" style="left:336.5px;top:702.61px">December 12, 2024</div>
<div class="c" style="left:490.5px;top:702.01px;letter-spacing:-0.1px">04:56 PM</div>
<div class="c" style="left:645px;top:702.01px;letter-spacing:-0.15px">00:46</div>
<div class="bl" style="left:756px;top:702.61px">13040</div>
<div class="bl" style="left:976px;top:702.61px">test</div>
<div class="bl" style="left:1197.5px;top:702.61px">bilal</div>
<div class="asg" style="left:1373.4px;top:699.73px">Assigned</div>
<div class="bl" style="left:1528px;top:702.61px">00000, xxx, xxx</div>
<div class="a" style="left:199px;top:754.94px;width:1490px;height:1px;background:#efefef"></div>
<svg class="a" style="left:227.4px;top:733.46px" width="10" height="10" viewBox="0 0 10 10" fill="none" stroke="#808080" stroke-width="1"><path d="M8.6 1.2L1.8 8M1.7 3.4v4.8h4.8"/></svg>
<div class="c b" style="left:336.5px;top:734.27px">December 12, 2024</div>
<div class="c" style="left:490.5px;top:733.67px;letter-spacing:-0.1px">04:41 PM</div>
<div class="c" style="left:645px;top:733.67px;letter-spacing:-0.15px">01:28</div>
<div class="bl" style="left:756px;top:734.27px">20131988730</div>
<div class="bl" style="left:976px;top:734.27px">usama</div>
<div class="bl" style="left:1197.5px;top:734.27px">usama, bilal</div>
<div class="asg" style="left:1373.4px;top:731.39px">Assigned</div>
<div class="bl" style="left:1528px;top:734.27px">00000, xxx</div>
<div class="a" style="left:199px;top:786.63px;width:1490px;height:1px;background:#efefef"></div>
<svg class="a" style="left:227.4px;top:765.12px" width="10" height="10" viewBox="0 0 10 10" fill="none" stroke="#808080" stroke-width="1"><path d="M8.6 1.2L1.8 8M1.7 3.4v4.8h4.8"/></svg>
<div class="c b" style="left:336.5px;top:765.93px">December 12, 2024</div>
<div class="c" style="left:490.5px;top:765.33px;letter-spacing:-0.1px">04:39 PM</div>
<div class="c" style="left:645px;top:765.33px;letter-spacing:-0.15px">00:04</div>
<div class="bl" style="left:756px;top:765.93px">20198777440</div>
<div class="bl" style="left:976px;top:765.93px">-</div>
<div class="bl" style="left:1197.5px;top:765.93px">-</div>
<div class="a" style="left:199px;top:818.31px;width:1490px;height:1px;background:#efefef"></div>
<svg class="a" style="left:227.4px;top:796.78px" width="10" height="10" viewBox="0 0 10 10" fill="none" stroke="#808080" stroke-width="1"><path d="M8.6 1.2L1.8 8M1.7 3.4v4.8h4.8"/></svg>
<div class="c b" style="left:336.5px;top:797.59px">December 12, 2024</div>
<div class="c" style="left:490.5px;top:796.99px;letter-spacing:-0.1px">11:40 AM</div>
<div class="c" style="left:645px;top:796.99px;letter-spacing:-0.15px">05:26</div>
<div class="bl" style="left:756px;top:797.59px">20198777440</div>
<div class="bl" style="left:976px;top:797.59px">usama</div>
<div class="bl" style="left:1197.5px;top:797.59px">usama</div>
<div class="badge" style="left:1373.8px;top:795.21px;width:25px">48%</div>
<div class="bl" style="left:1528px;top:797.59px">aa, xxx, 00000</div>
<div class="a" style="left:199px;top:850.00px;width:1490px;height:1px;background:#efefef"></div>
<svg class="a" style="left:227.4px;top:828.44px" width="10" height="10" viewBox="0 0 10 10" fill="none" stroke="#808080" stroke-width="1"><path d="M8.6 1.2L1.8 8M1.7 3.4v4.8h4.8"/></svg>
<div class="c b" style="left:336.5px;top:829.25px">December 11, 2024</div>
<div class="c" style="left:490.5px;top:828.65px;letter-spacing:-0.1px">11:28 AM</div>
<div class="c" style="left:645px;top:828.65px;letter-spacing:-0.15px">01:50</div>
<div class="bl" style="left:756px;top:829.25px">9870</div>
<div class="bl" style="left:976px;top:829.25px">usama</div>
<div class="bl" style="left:1197.5px;top:829.25px">usama</div>
<div class="asg" style="left:1373.4px;top:826.37px">Assigned</div>
<div class="bl" style="left:1528px;top:829.25px">xxx, xxx</div>
<div class="a" style="left:748px;top:218px;width:276px;height:633px;backdrop-filter:blur(2px);-webkit-backdrop-filter:blur(2px)"></div>
<div class="a" style="left:1182px;top:218px;width:86px;height:633px;backdrop-filter:blur(2px);-webkit-backdrop-filter:blur(2px)"></div>
<div class="a" style="left:1496px;top:218px;width:152px;height:633px;backdrop-filter:blur(2px);-webkit-backdrop-filter:blur(2px)"></div>
<div class="a" style="left:1689px;top:185px;width:5px;height:665.5px;background:#dedede;border-radius:0 0 2px 2px"></div>
<div class="t" style="left:785px;top:867.4px;font-size:9px;color:#333">Showing 1 to 20 of 105</div>
<svg class="a" style="left:898px;top:867px" width="9" height="11" viewBox="0 0 9 11" fill="none" stroke="#999" stroke-width="1.1"><path d="M6.5 1L2.3 5.5L6.5 10"/></svg>
<div class="pg" style="left:919px;background:#e4e4e4">1</div>
<div class="pg" style="left:952px;background:#f1f1f1">2</div>
<div class="pg" style="left:984px;background:#f1f1f1">3</div>
<svg class="a" style="left:1017px;top:867px" width="9" height="11" viewBox="0 0 9 11" fill="none" stroke="#222" stroke-width="1.5"><path d="M2.3 1L6.5 5.5L2.3 10"/></svg>
<div class="t" style="left:1031px;top:867.6px;font-size:8.6px;color:#333">Show</div>
<div class="a" style="left:1056.5px;top:860.5px;width:32px;height:23.5px;background:#f1f1f1"></div>
<div class="t" style="left:1058.5px;top:867.2px;font-size:10.5px;color:#333">20</div>
<svg class="a" style="left:1074px;top:868px" width="12" height="8" viewBox="0 0 12 8" fill="none" stroke="#444" stroke-width="1.1"><path d="M1 1.5L6 6.3L11 1.5"/></svg>
<div class="a" style="left:1446px;top:133px;width:366px;height:403px;background:rgba(255,255,255,0.62);border-radius:16px;box-shadow:0 6px 7px -1px rgba(0,0,0,0.30), -1px 1px 2px rgba(0,0,0,0.07)"></div>
<div class="a" style="left:1456px;top:136px;width:346px;height:391px;background:#fff"></div>
<div class="a" style="left:1456px;top:136px;width:346px;height:33px;background:linear-gradient(#fff,#f6f6f6)"></div>
<div class="a" style="left:1456px;top:169px;width:346px;height:2px;background:#d7dde8"></div>
<div class="a" style="left:1767px;top:136.5px;width:1px;height:29px;background:#e6e6e6"></div>
<svg class="a" style="left:1463px;top:143px" width="17" height="17" viewBox="0 0 17 17" fill="none" stroke="#9a9a9a" stroke-width="1.7"><circle cx="6.8" cy="6.8" r="4.9"/><path d="M10.4 10.4L14.5 14.5"/></svg>
<div class="t" style="left:1489.5px;top:143.2px;font-size:15.3px;color:#5f6670">Search</div>
<div class="a" style="left:1777px;top:145.6px;width:20px;height:2px;background:#6e6e6e"></div>
<div class="a" style="left:1780.4px;top:151px;width:13.3px;height:2px;background:#6e6e6e"></div>
<div class="a" style="left:1784.8px;top:156.6px;width:4.4px;height:2px;background:#6e6e6e"></div>

<div class="fi" style="top:193.30px">Start Date &amp; Time</div>
<svg class="a" style="left:1776px;top:199.5px" width="13" height="8" viewBox="0 0 13 8" fill="none" stroke="#858585" stroke-width="1.5"><path d="M1 1.2L6.5 6.6L12 1.2"/></svg>
<div class="fi" style="top:243.90px">End Date &amp; Time</div>
<svg class="a" style="left:1776px;top:250.1px" width="13" height="8" viewBox="0 0 13 8" fill="none" stroke="#858585" stroke-width="1.5"><path d="M1 1.2L6.5 6.6L12 1.2"/></svg>
<div class="fi" style="top:294.50px">Agents and Teams</div>
<svg class="a" style="left:1776px;top:300.7px" width="13" height="8" viewBox="0 0 13 8" fill="none" stroke="#858585" stroke-width="1.5"><path d="M1 1.2L6.5 6.6L12 1.2"/></svg>
<div class="fi" style="top:345.10px">Direction</div>
<svg class="a" style="left:1776px;top:351.3px" width="13" height="8" viewBox="0 0 13 8" fill="none" stroke="#858585" stroke-width="1.5"><path d="M1 1.2L6.5 6.6L12 1.2"/></svg>
<div class="fi" style="top:395.70px">Wrap-ups</div>
<svg class="a" style="left:1776px;top:401.9px" width="13" height="8" viewBox="0 0 13 8" fill="none" stroke="#858585" stroke-width="1.5"><path d="M1 1.2L6.5 6.6L12 1.2"/></svg>
<div class="fi" style="top:446.30px">Duration</div>
<svg class="a" style="left:1776px;top:452.5px" width="13" height="8" viewBox="0 0 13 8" fill="none" stroke="#858585" stroke-width="1.5"><path d="M1 1.2L6.5 6.6L12 1.2"/></svg>
<div class="a" style="left:1492px;top:481.2px;width:136.7px;height:37.8px;background:#e6ebf5;border-radius:4px"></div>
<div class="a" style="left:1632.3px;top:481.2px;width:135.5px;height:37.8px;background:#e6ebf5;border-radius:4px"></div>
<div class="t" style="left:1541.8px;top:493.2px;font-size:14px;color:#777">Reset</div>
<div class="t" style="left:1682px;top:493.2px;font-size:14px;color:#2f5ab0">Apply</div>
<div class="a" style="left:1463px;top:525px;width:333px;height:1px;background:#f0f0f0"></div>

</div></body></html>
